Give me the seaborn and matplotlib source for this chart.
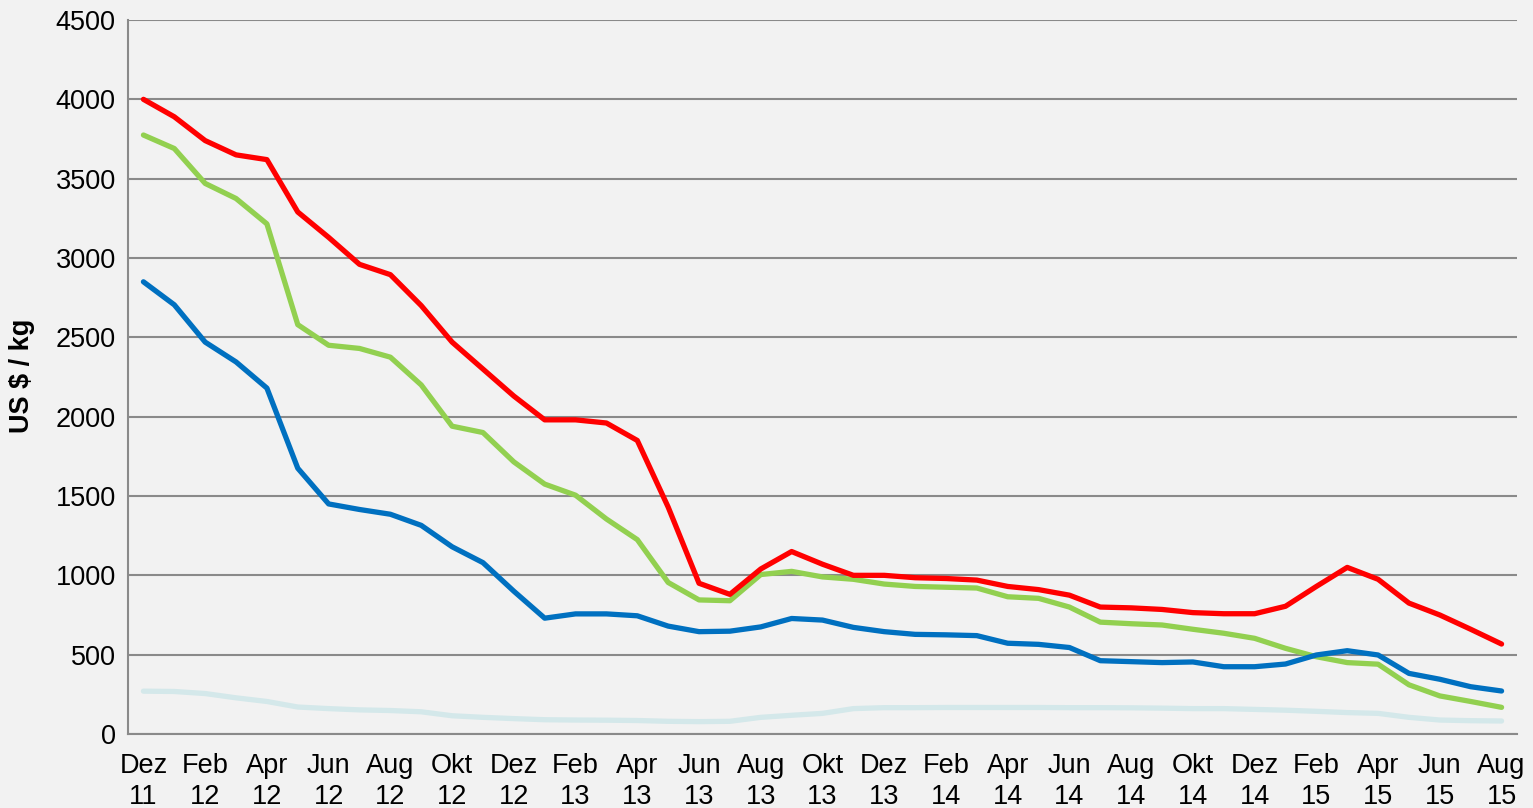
import numpy as np
import pandas as pd
import matplotlib
matplotlib.use('Agg')
import matplotlib.pyplot as plt
from matplotlib.ticker import FixedLocator
import seaborn as sns

# Monatsachse Dez 11 .. Aug 15 (45 Monate)
MONTHS = ['Dez 11', 'Jan 12', 'Feb 12', 'Mrz 12', 'Apr 12', 'Mai 12', 'Jun 12', 'Jul 12',
          'Aug 12', 'Sep 12', 'Okt 12', 'Nov 12', 'Dez 12', 'Jan 13', 'Feb 13', 'Mrz 13',
          'Apr 13', 'Mai 13', 'Jun 13', 'Jul 13', 'Aug 13', 'Sep 13', 'Okt 13', 'Nov 13',
          'Dez 13', 'Jan 14', 'Feb 14', 'Mrz 14', 'Apr 14', 'Mai 14', 'Jun 14', 'Jul 14',
          'Aug 14', 'Sep 14', 'Okt 14', 'Nov 14', 'Dez 14', 'Jan 15', 'Feb 15', 'Mrz 15',
          'Apr 15', 'Mai 15', 'Jun 15', 'Jul 15', 'Aug 15']

red = [4000, 3890, 3740, 3650, 3620, 3290, 3130, 2960, 2895, 2700,
       2470, 2300, 2130, 1980, 1980, 1960, 1850, 1430, 950, 880,
       1040, 1150, 1070, 1000, 1000, 985, 980, 970, 930, 910,
       875, 800, 795, 785, 765, 758, 758, 805, 930, 1050,
       975, 825, 750, 660, 567]

green = [3775, 3690, 3470, 3375, 3215, 2580, 2450, 2430, 2375, 2200,
         1940, 1900, 1715, 1575, 1505, 1355, 1225, 955, 845, 840,
         1005, 1025, 990, 975, 945, 930, 925, 920, 865, 855,
         800, 705, 695, 687, 660, 635, 603, 540, 487, 450,
         440, 310, 240, 205, 168]

blue = [2850, 2705, 2470, 2345, 2180, 1675, 1450, 1415, 1385, 1315,
        1180, 1080, 900, 730, 757, 757, 745, 680, 645, 648,
        675, 728, 718, 672, 645, 628, 625, 620, 572, 565,
        545, 462, 456, 450, 454, 424, 424, 441, 498, 525,
        498, 382, 345, 298, 271]

light = [270, 268, 255, 228, 205, 170, 160, 152, 148, 140,
         115, 105, 97, 90, 88, 87, 85, 80, 78, 80,
         105, 118, 130, 160, 166, 166, 167, 167, 167, 167,
         166, 166, 165, 163, 160, 160, 155, 150, 143, 135,
         130, 105, 88, 84, 82]

SERIES = {'light': light, 'green': green, 'blue': blue, 'red': red}
COLORS = {'light': '#d4e8ea', 'green': '#92d050', 'blue': '#0070c0', 'red': '#ff0000'}

rows = []
for name, vals in SERIES.items():
    for i, v in enumerate(vals):
        rows.append({'idx': i, 'wert': v, 'serie': name})
df = pd.DataFrame(rows)

sns.set_style('white')
plt.rcParams['font.family'] = ['Liberation Sans', 'DejaVu Sans']
plt.rcParams['text.color'] = 'black'
plt.rcParams['axes.labelcolor'] = 'black'

BG = '#f2f2f2'
GRID = '#8a8a8a'
FS = 19.5

fig = plt.figure(figsize=(15.33, 8.08), dpi=100, facecolor=BG)
ax = fig.add_axes([128 / 1533, 74 / 808, (1517 - 128) / 1533, (734 - 20) / 808])
ax.set_facecolor(BG)

sns.lineplot(data=df, x='idx', y='wert', hue='serie', palette=COLORS,
             hue_order=['light', 'green', 'blue', 'red'],
             linewidth=3.8, legend=False, ax=ax, solid_capstyle='round')

ax.set_xlim(-0.5, len(MONTHS) - 0.5)
ax.set_ylim(0, 4500)
ax.set_yticks(np.arange(0, 4501, 500))
ax.yaxis.grid(True, color=GRID, linewidth=1.5)
ax.set_axisbelow(True)

# Beschriftung alle zwei Monate, Striche an den Kategoriegrenzen
lbl_pos = list(range(0, len(MONTHS), 2))
ax.set_xticks(lbl_pos)
ax.set_xticklabels([MONTHS[i].replace(' ', '\n') for i in lbl_pos],
                   fontsize=FS, linespacing=1.22)
ax.xaxis.set_minor_locator(FixedLocator(np.arange(-0.5, len(MONTHS) - 1, 2)))
ax.tick_params(axis='x', which='major', length=0, pad=14, labelcolor='black')
ax.tick_params(axis='x', which='minor', length=5.8, width=1.5, color=GRID, direction='out')
ax.tick_params(axis='y', length=5.8, width=1.5, color=GRID, labelsize=FS, pad=3,
               labelcolor='black')

for s in ['top', 'right']:
    ax.spines[s].set_visible(False)
for s in ['left', 'bottom']:
    ax.spines[s].set_color(GRID)
    ax.spines[s].set_linewidth(1.5)

ax.set_xlabel('')
ax.set_ylabel('US $ / kg', fontsize=FS, fontweight='bold', color='black')
ax.yaxis.label.set_va('center')
ax.yaxis.set_label_coords((22 - 128) / 1389, (734 - 376) / 714)

fig.savefig('out.png', dpi=100, facecolor=BG)
